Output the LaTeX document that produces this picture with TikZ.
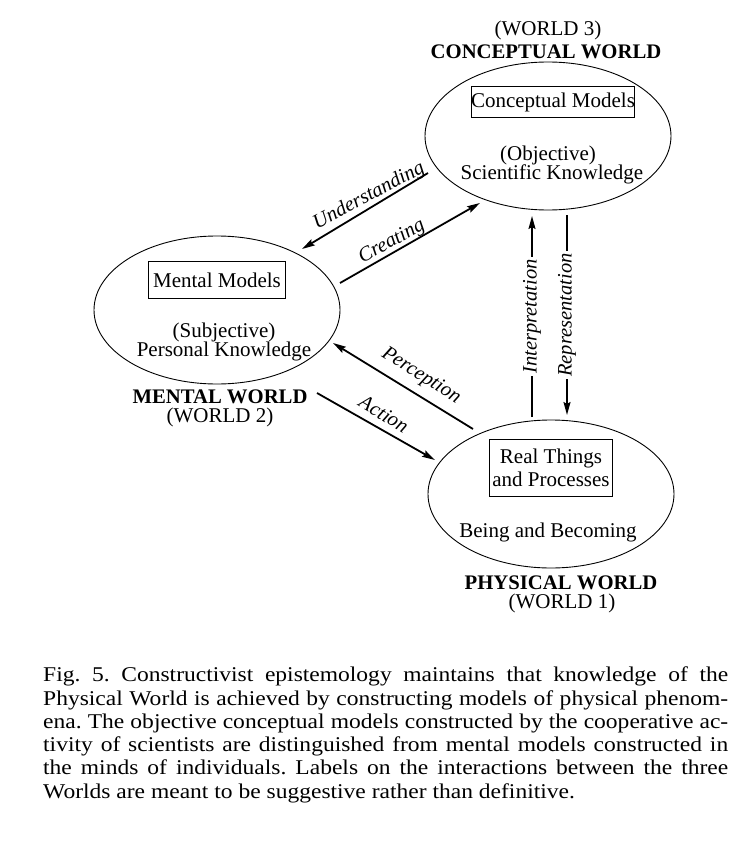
\documentclass[tikz,border=0pt]{standalone}
\usepackage{fontspec}
\setmainfont{Liberation Serif}
\newfontfamily\capfont[FakeStretch=1.12]{Liberation Serif}
\usetikzlibrary{shapes.geometric,arrows.meta}
\begin{document}
\frenchspacing
\begin{tikzpicture}[x=1pt,y=-1pt,
 world/.style={draw, ellipse, line width=0.9pt, minimum width=246pt, minimum height=148pt, inner sep=0},
 modelbox/.style={draw, line width=1pt, inner sep=0, font=\fontsize{21}{23.5}\selectfont, align=center},
 txt/.style={font=\fontsize{21}{23}\selectfont, inner sep=0},
 ttl/.style={font=\fontsize{20.7}{23}\selectfont\bfseries, inner sep=0},
 lbl/.style={font=\fontsize{20.5}{23}\selectfont\itshape, inner sep=0},
 conn/.style={line width=1.8pt, -{Stealth[length=13pt,width=7pt,inset=2pt]}},
 captxt/.style={font=\capfont\fontsize{21}{24}\selectfont, inner sep=0, anchor=base west}
]
\useasboundingbox (0,0) rectangle (750,843);
\fill[white] (0,0) rectangle (750,843);

% worlds
\node[world] (cw) at (548,136) {};
\node[world] (mw) at (217,310) {};
\node[world] (pw) at (551,494) {};

% World 3
\node[txt] (w3) at (548,30) {(WORLD 3)};
\node[ttl] (cwt) at (546,52) {CONCEPTUAL WORLD};
\node[modelbox, minimum width=161pt, minimum height=31pt] (cm) at (553,102) {Conceptual Models};
\node[txt] (obj) at (548,155) {(Objective)};
\node[txt] (sk) at (552,174) {Scientific Knowledge};

% World 2
\node[modelbox, minimum width=137pt, minimum height=37pt] (mm) at (217,280) {Mental Models};
\node[txt] (sub) at (224,332) {(Subjective)};
\node[txt] (pk) at (224,351) {Personal Knowledge};
\node[ttl] (mwt) at (220,397) {MENTAL WORLD};
\node[txt] (w2) at (220,417) {(WORLD 2)};

% World 1
\node[modelbox, minimum width=123pt, minimum height=57pt] (rt) at (551,468) {Real Things\\and Processes};
\node[txt] (bb) at (548,532) {Being and Becoming};
\node[ttl] (pwt) at (561,583) {PHYSICAL WORLD};
\node[txt] (w1) at (562,603) {(WORLD 1)};

% connector ends
\coordinate (undS) at (428,173);
\coordinate (undE) at (302,249);
\coordinate (creS) at (340,283);
\coordinate (creE) at (480,203);
\coordinate (perS) at (473,429);
\coordinate (perE) at (333,343);
\coordinate (actS) at (317,393);
\coordinate (actE) at (435,460);
\coordinate (intS) at (532,417);
\coordinate (intE) at (532,216);
\coordinate (repS) at (567,215);
\coordinate (repE) at (567,415);

\draw[conn] (undS) -- (undE);
\draw[conn] (creS) -- (creE);
\draw[conn] (perS) -- (perE);
\draw[conn] (actS) -- (actE);
\draw[conn] (intS) -- node[lbl, fill=white, inner sep=2.5pt, rotate=90] (intl) {Interpretation} (intE);
\draw[conn] (repS) -- node[lbl, fill=white, inner sep=2.5pt, rotate=90] (repl) {Representation} (repE);

\node[lbl, rotate=28] (undl) at (369,196) {Understanding};
\node[lbl, rotate=29] (crel) at (392,242) {Creating};
\node[lbl, rotate=-32] (perl) at (421,376) {Perception};
\node[lbl, rotate=-31] (actl) at (384,414) {Action};

% caption
\node[captxt] (cap1) at (43,681.7) {\makebox[685pt][s]{Fig. 5. Constructivist epistemology maintains that knowledge of the}};
\node[captxt] (cap2) at (43,705.3) {\makebox[685pt][s]{Physical World is achieved by constructing models of physical phenom-}};
\node[captxt] (cap3) at (43,728.5) {\makebox[685pt][s]{ena. The objective conceptual models constructed by the cooperative ac-}};
\node[captxt] (cap4) at (43,751.7) {\makebox[685pt][s]{tivity of scientists are distinguished from mental models constructed in}};
\node[captxt] (cap5) at (43,774.9) {\makebox[685pt][s]{the minds of individuals. Labels on the interactions between the three}};
\node[captxt] (cap6) at (43,798) {Worlds are meant to be suggestive rather than definitive.};
\end{tikzpicture}
\end{document}
